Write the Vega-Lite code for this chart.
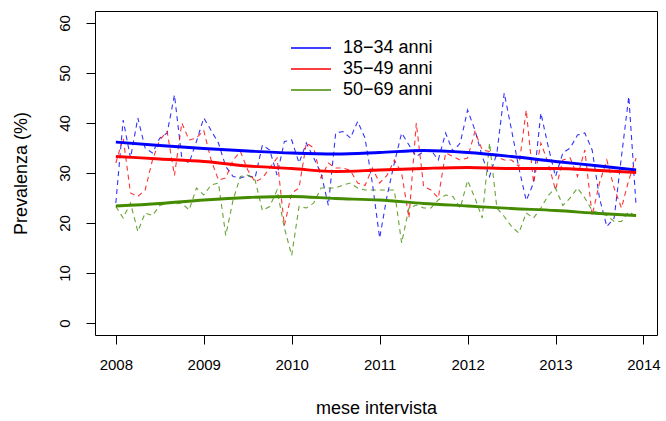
{
  "$schema": "https://vega.github.io/schema/vega-lite/v6.json",
  "width": 562,
  "height": 324,
  "autosize": {"type": "none"},
  "padding": {"left": 95, "top": 11, "right": 9, "bottom": 86},
  "background": "white",
  "config": {
    "font": "Liberation Sans",
    "view": {"stroke": "black", "strokeWidth": 1},
    "axis": {"grid": false, "domain": false, "tickColor": "black", "tickSize": 9, "labelColor": "black", "labelFontSize": 15, "titleFontSize": 18, "titleFontWeight": "normal", "titleColor": "black", "labelFlush": false}
  },
  "datasets": {
    "monthly": [
      {"t": 2008.0, "a": 24, "b": 32, "c": 23.3},
      {"t": 2008.0833, "a": 40.6, "b": 37, "c": 21},
      {"t": 2008.1667, "a": 33, "b": 26, "c": 24},
      {"t": 2008.25, "a": 41, "b": 25.3, "c": 18.3},
      {"t": 2008.3333, "a": 35, "b": 26.6, "c": 22},
      {"t": 2008.4167, "a": 34, "b": 32.6, "c": 21.5},
      {"t": 2008.5, "a": 37, "b": 36.6, "c": 23.5},
      {"t": 2008.5833, "a": 38, "b": 38.3, "c": 24},
      {"t": 2008.6667, "a": 45.6, "b": 29.5, "c": 23.8},
      {"t": 2008.75, "a": 33, "b": 40, "c": 24},
      {"t": 2008.8333, "a": 32, "b": 36.6, "c": 22.6},
      {"t": 2008.9167, "a": 36.3, "b": 37, "c": 27},
      {"t": 2009.0, "a": 41, "b": 38.5, "c": 25.6},
      {"t": 2009.0833, "a": 38.5, "b": 32.6, "c": 27.6},
      {"t": 2009.1667, "a": 36, "b": 28.6, "c": 28},
      {"t": 2009.25, "a": 31.3, "b": 29, "c": 17.5},
      {"t": 2009.3333, "a": 29.3, "b": 32.6, "c": 24.6},
      {"t": 2009.4167, "a": 29, "b": 34.3, "c": 29.3},
      {"t": 2009.5, "a": 29.5, "b": 30.6, "c": 29.6},
      {"t": 2009.5833, "a": 29, "b": 28.2, "c": 28.6},
      {"t": 2009.6667, "a": 35.6, "b": 29, "c": 22.5},
      {"t": 2009.75, "a": 34.6, "b": 31, "c": 23.3},
      {"t": 2009.8333, "a": 29.6, "b": 33, "c": 26.6},
      {"t": 2009.9167, "a": 36.3, "b": 19.5, "c": 19},
      {"t": 2010.0, "a": 36.6, "b": 26, "c": 13.5},
      {"t": 2010.0833, "a": 32, "b": 27, "c": 23.3},
      {"t": 2010.1667, "a": 36, "b": 36, "c": 23},
      {"t": 2010.25, "a": 33, "b": 35, "c": 24},
      {"t": 2010.3333, "a": 30, "b": 29, "c": 27},
      {"t": 2010.4167, "a": 23.5, "b": 32, "c": 27},
      {"t": 2010.5, "a": 38, "b": 31, "c": 27},
      {"t": 2010.5833, "a": 38.3, "b": 31, "c": 27.6},
      {"t": 2010.6667, "a": 37, "b": 30.5, "c": 28},
      {"t": 2010.75, "a": 40.3, "b": 28, "c": 27},
      {"t": 2010.8333, "a": 37, "b": 27.5, "c": 26.6},
      {"t": 2010.9167, "a": 28, "b": 31, "c": 26.6},
      {"t": 2011.0, "a": 17, "b": 28, "c": 26.6},
      {"t": 2011.0833, "a": 25.3, "b": 29.5, "c": 26.6},
      {"t": 2011.1667, "a": 32, "b": 32.6, "c": 26.6},
      {"t": 2011.25, "a": 38, "b": 30, "c": 16},
      {"t": 2011.3333, "a": 35.6, "b": 21, "c": 23},
      {"t": 2011.4167, "a": 33.3, "b": 40, "c": 23.6},
      {"t": 2011.5, "a": 34.3, "b": 27.3, "c": 23},
      {"t": 2011.5833, "a": 34.6, "b": 26.6, "c": 23},
      {"t": 2011.6667, "a": 32.6, "b": 25, "c": 24.6},
      {"t": 2011.75, "a": 38, "b": 34, "c": 25.6},
      {"t": 2011.8333, "a": 34.3, "b": 33.3, "c": 25.3},
      {"t": 2011.9167, "a": 36, "b": 32.6, "c": 23},
      {"t": 2012.0, "a": 42.6, "b": 33, "c": 28.5},
      {"t": 2012.0833, "a": 38.6, "b": 38.3, "c": 25},
      {"t": 2012.1667, "a": 33.3, "b": 34.6, "c": 21},
      {"t": 2012.25, "a": 29.3, "b": 34.3, "c": 36},
      {"t": 2012.3333, "a": 34, "b": 33.3, "c": 23},
      {"t": 2012.4167, "a": 46, "b": 32.6, "c": 21.3},
      {"t": 2012.5, "a": 38.6, "b": 32.6, "c": 19.3},
      {"t": 2012.5833, "a": 31, "b": 31.3, "c": 18},
      {"t": 2012.6667, "a": 24.5, "b": 42.6, "c": 22},
      {"t": 2012.75, "a": 28, "b": 28, "c": 21},
      {"t": 2012.8333, "a": 42, "b": 36, "c": 23},
      {"t": 2012.9167, "a": 35.3, "b": 32, "c": 25.5},
      {"t": 2013.0, "a": 29.3, "b": 26.6, "c": 27},
      {"t": 2013.0833, "a": 34, "b": 32.6, "c": 23.5},
      {"t": 2013.1667, "a": 35, "b": 33, "c": 25},
      {"t": 2013.25, "a": 37.6, "b": 29.3, "c": 27},
      {"t": 2013.3333, "a": 38, "b": 34.6, "c": 25},
      {"t": 2013.4167, "a": 34.6, "b": 21.5, "c": 22.5},
      {"t": 2013.5, "a": 25, "b": 28, "c": 22},
      {"t": 2013.5833, "a": 19.3, "b": 32.6, "c": 21.5},
      {"t": 2013.6667, "a": 21, "b": 27, "c": 20.3},
      {"t": 2013.75, "a": 33.3, "b": 23, "c": 20.3},
      {"t": 2013.8333, "a": 45.3, "b": 28.6, "c": 22.3},
      {"t": 2013.9167, "a": 23.3, "b": 33, "c": 21.3}
    ],
    "smooth": [
      {"t": 2008.0, "a": 36.2, "b": 33.3, "c": 23.4},
      {"t": 2008.5, "a": 35.5, "b": 32.8, "c": 23.9},
      {"t": 2009.0, "a": 34.9, "b": 32.3, "c": 24.6},
      {"t": 2009.5, "a": 34.4, "b": 31.4, "c": 25.1},
      {"t": 2010.0, "a": 34.0, "b": 30.9, "c": 25.3},
      {"t": 2010.5, "a": 33.8, "b": 30.3, "c": 24.9},
      {"t": 2011.0, "a": 34.1, "b": 30.6, "c": 24.6},
      {"t": 2011.5, "a": 34.5, "b": 30.9, "c": 23.9},
      {"t": 2012.0, "a": 34.1, "b": 31.1, "c": 23.4},
      {"t": 2012.5, "a": 33.3, "b": 30.9, "c": 22.9},
      {"t": 2013.0, "a": 32.3, "b": 30.9, "c": 22.5},
      {"t": 2013.5, "a": 31.4, "b": 30.5, "c": 21.9},
      {"t": 2013.9167, "a": 30.6, "b": 30.1, "c": 21.5}
    ]
  },
  "encoding": {
    "x": {
      "field": "t", "type": "quantitative",
      "scale": {"domain": [2007.763, 2014.154], "nice": false, "zero": false},
      "axis": {"values": [2008, 2009, 2010, 2011, 2012, 2013, 2014], "format": "d", "labelPadding": 13, "title": "mese intervista", "titlePadding": 27}
    },
    "y": {
      "field": "v", "type": "quantitative",
      "scale": {"domain": [-2.4, 62.4], "nice": false, "zero": false},
      "axis": {"values": [0, 10, 20, 30, 40, 50, 60], "labelAngle": 270, "labelAlign": "center", "labelBaseline": "bottom", "labelPadding": 14, "title": "Prevalenza (%)", "titlePadding": 27}
    },
    "color": {
      "field": "g", "type": "nominal",
      "scale": {"domain": ["18−34 anni", "35−49 anni", "50−69 anni"], "range": ["#0000FF", "#FF0000", "#458B00"]},
      "legend": {"orient": "none", "legendX": 205, "legendY": 26, "title": null, "symbolType": "M-2,0H2", "symbolSize": 400, "symbolStrokeWidth": 1.5, "symbolDash": [1, 0], "symbolOpacity": 1, "labelFontSize": 18, "labelColor": "black", "labelOffset": 21, "rowPadding": 1}
    }
  },
  "layer": [
    {
      "data": {"name": "monthly"},
      "transform": [
        {"fold": ["a", "b", "c"], "as": ["k", "v"]},
        {"lookup": "k", "from": {"data": {"values": [{"k": "a", "g": "18−34 anni"}, {"k": "b", "g": "35−49 anni"}, {"k": "c", "g": "50−69 anni"}]}, "key": "k", "fields": ["g"]}}
      ],
      "mark": {"type": "line", "strokeWidth": 1.1, "strokeDash": [5, 4], "opacity": 0.8}
    },
    {
      "data": {"name": "smooth"},
      "transform": [
        {"fold": ["a", "b", "c"], "as": ["k", "v"]},
        {"lookup": "k", "from": {"data": {"values": [{"k": "a", "g": "18−34 anni"}, {"k": "b", "g": "35−49 anni"}, {"k": "c", "g": "50−69 anni"}]}, "key": "k", "fields": ["g"]}}
      ],
      "mark": {"type": "line", "strokeWidth": 2.8, "interpolate": "monotone"}
    }
  ]
}
